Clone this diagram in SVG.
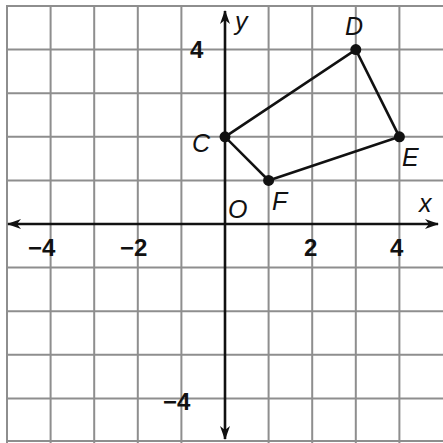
<svg xmlns="http://www.w3.org/2000/svg" width="443" height="443" viewBox="0 0 443 443">
<defs>
<style>
.grid{stroke:#8e8e8e;stroke-width:2;fill:none}
.axis{stroke:#111;stroke-width:2.6;fill:none}
.edge{stroke:#111;stroke-width:2.6;fill:none}
.num{font-family:"Liberation Sans",Arial,sans-serif;font-weight:bold;font-size:24px;fill:#111}
.lbl{font-family:"Liberation Sans",Arial,sans-serif;font-style:italic;font-size:25px;fill:#111}
.pt{fill:#111}
</style>
<marker id="ah" viewBox="0 0 14 10" refX="13" refY="5" markerWidth="14" markerHeight="10" markerUnits="userSpaceOnUse" orient="auto">
<path d="M0,0 L14,5 L0,10 L4,5 Z" fill="#111"/>
</marker>
</defs>
<rect width="443" height="443" fill="#fff"/>
<g id="grid" class="grid">
<path d="M7,5V443M50.6,5V443M94.2,5V443M137.8,5V443M181.4,5V443M268.6,5V443M312.2,5V443M355.8,5V443M399.4,5V443"/>
<path d="M7,6H443M7,49.6H443M7,93.2H443M7,136.8H443M7,180.4H443M7,267.6H443M7,311.2H443M7,354.8H443M7,398.4H443M7,441H443"/>
</g>
<g id="connectors">
<line class="axis" x1="225" y1="224" x2="438" y2="224" marker-end="url(#ah)"/>
<line class="axis" x1="225" y1="224" x2="8" y2="224" marker-end="url(#ah)"/>
<line class="axis" x1="225" y1="224" x2="225" y2="11" marker-end="url(#ah)"/>
<line class="axis" x1="225" y1="224" x2="225" y2="439" marker-end="url(#ah)"/>
<polygon class="edge" points="225,136.8 355.8,49.6 399.4,136.8 268.6,180.4"/>
</g>
<g id="C"><circle class="pt" cx="225" cy="136.8" r="5.5"/><text class="lbl" x="192" y="152">C</text></g>
<g id="D"><circle class="pt" cx="355.8" cy="49.6" r="5.5"/><text class="lbl" x="345" y="35">D</text></g>
<g id="E"><circle class="pt" cx="399.4" cy="136.8" r="5.5"/><text class="lbl" x="402" y="166">E</text></g>
<g id="F"><circle class="pt" cx="268.6" cy="180.4" r="5.5"/><text class="lbl" x="272" y="210">F</text></g>
<g id="labels">
<text class="lbl" x="228" y="218">O</text>
<text class="lbl" x="419" y="212">x</text>
<text class="lbl" x="235" y="30">y</text>
<text class="num" x="190" y="58">4</text>
<text class="num" x="28" y="256">−4</text>
<text class="num" x="120" y="256">−2</text>
<text class="num" x="304" y="256">2</text>
<text class="num" x="390" y="256">4</text>
<text class="num" x="163" y="410">−4</text>
</g>
</svg>
